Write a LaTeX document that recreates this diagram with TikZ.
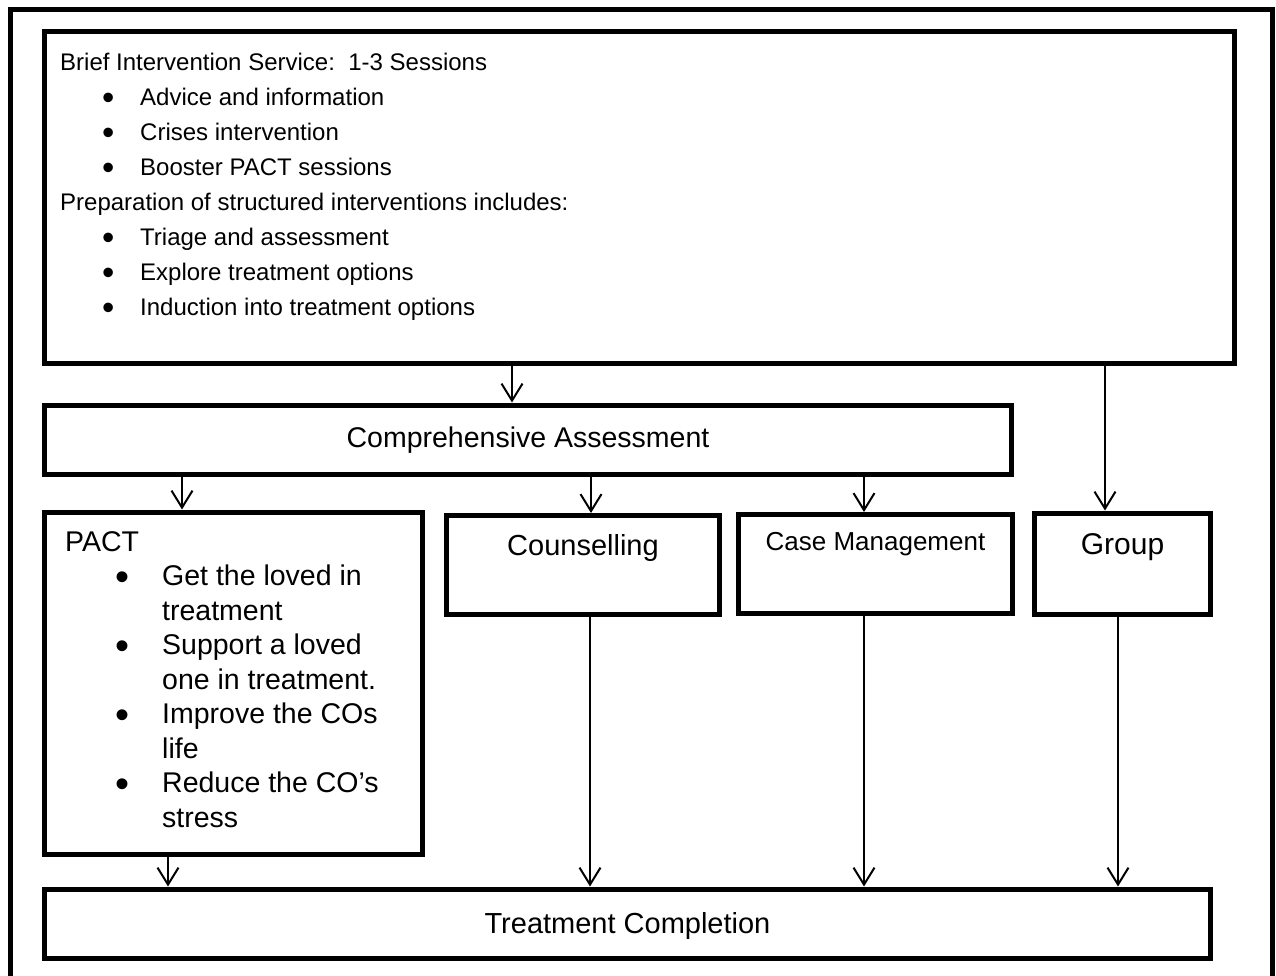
\documentclass[tikz,border=0pt]{standalone}
\usepackage{fontspec}
\setmainfont{Liberation Sans}
\usetikzlibrary{arrows.meta}
\newcommand{\bigbul}[2]{\raisebox{#2}{\fontsize{#1}{#1}\selectfont\textbullet}}
\newcommand{\bitem}[1]{\hspace*{42pt}\makebox[38pt][l]{\bigbul{35}{-4pt}}#1}
\newcommand{\pitem}[1]{\hspace*{50pt}\makebox[47pt][l]{\bigbul{40}{-4.5pt}}#1}
\newcommand{\pcont}[1]{\hspace*{97pt}#1}
\begin{document}
\begin{tikzpicture}[x=1pt,y=-1pt]
\tikzstyle{every node}+=[inner sep=0pt]
\tikzstyle{box}=[draw=black, line width=5pt]
\tikzstyle{arr}=[black, line width=2pt, -{Straight Barb[length=17pt,width=21pt]}]
\useasboundingbox (0,0) rectangle (1276,976);
% outer frame, open at the bottom
\draw [black, line width=5pt] (10,976) -- (10,10) -- (1272,10) -- (1272,976);
\node [box, minimum width=1189.5pt, minimum height=331.8pt] (brief) at (639.25,197.4) {};
\node [anchor=base west, font=\fontsize{24}{35}\selectfont] (brieftxt) at (60,71) {\begin{tabular}[t]{@{}l@{}}
Brief Intervention Service:\ \ 1-3 Sessions\\
\bitem{Advice and information}\\
\bitem{Crises intervention}\\
\bitem{Booster PACT sessions}\\
Preparation of structured interventions includes:\\
\bitem{Triage and assessment}\\
\bitem{Explore treatment options}\\
\bitem{Induction into treatment options}
\end{tabular}};
\node [box, minimum width=967pt, minimum height=69.5pt] (ca) at (528,439.75) {};
\node [anchor=base, font=\fontsize{28.5}{34}\selectfont] (catxt) at (528,447) {Comprehensive Assessment};
\node [box, minimum width=377.5pt, minimum height=342pt] (pact) at (233.25,683) {};
\node [anchor=base west, font=\fontsize{28.5}{34.5}\selectfont] (pacttxt) at (65,551) {\begin{tabular}[t]{@{}l@{}}
PACT\\
\pitem{Get the loved in}\\
\pcont{treatment}\\
\pitem{Support a loved}\\
\pcont{one in treatment.}\\
\pitem{Improve the COs}\\
\pcont{life}\\
\pitem{Reduce the CO’s}\\
\pcont{stress}
\end{tabular}};
\node [box, minimum width=273pt, minimum height=99pt] (couns) at (583,565) {};
\node [anchor=base, font=\fontsize{29}{34}\selectfont] (counstxt) at (583,555) {Counselling};
\node [box, minimum width=274pt, minimum height=99pt] (casem) at (875.5,564) {};
\node [anchor=base, font=\fontsize{26}{31}\selectfont] (casemtxt) at (875.5,550) {Case Management};
\node [box, minimum width=176pt, minimum height=101pt] (group) at (1122.5,563.5) {};
\node [anchor=base, font=\fontsize{30}{36}\selectfont] (grouptxt) at (1122.5,554) {Group};
\node [box, minimum width=1166pt, minimum height=69.5pt] (tc) at (627.5,923.75) {};
\node [anchor=base, font=\fontsize{29}{34}\selectfont] (tctxt) at (627.5,933) {Treatment Completion};
% arrows
\draw [arr] (brief.south -| 512,0) -- (ca.north -| 512,0);
\draw [arr] (brief.south -| 1105,0) -- (group.north -| 1105,0);
\draw [arr] (ca.south -| 182,0) -- (pact.north -| 182,0);
\draw [arr] (ca.south -| 591,0) -- (couns.north -| 591,0);
\draw [arr] (ca.south -| 864,0) -- (casem.north -| 864,0);
\draw [arr] (pact.south -| 168,0) -- (tc.north -| 168,0);
\draw [arr] (couns.south -| 590,0) -- (tc.north -| 590,0);
\draw [arr] (casem.south -| 864,0) -- (tc.north -| 864,0);
\draw [arr] (group.south -| 1118,0) -- (tc.north -| 1118,0);
\end{tikzpicture}
\end{document}
